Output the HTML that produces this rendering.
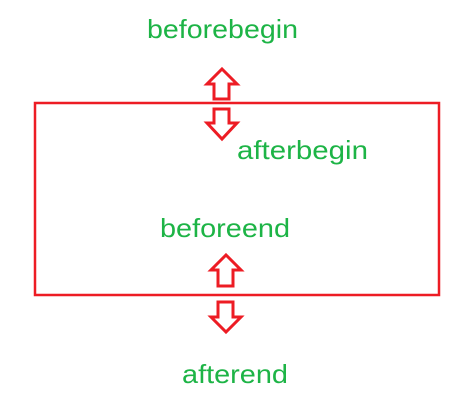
<!DOCTYPE html>
<html><head><style>html,body{margin:0;padding:0;background:#fff;}svg{display:block}</style></head>
<body>
<svg width="476" height="400" xmlns="http://www.w3.org/2000/svg">
<rect x="35" y="103" width="404" height="192" fill="none" stroke="#ed1c24" stroke-width="2.5"/>
<g fill="#fff" stroke="#ed1c24" stroke-width="3" stroke-linejoin="miter">
<polygon points="222,69 237,84 229,84 229,99 214,99 214,84 207,84"/>
<polygon points="214,109 229,109 229,123 237,123 222,139 207,123 214,123"/>
<polygon points="226,255 241,270 233,270 233,286 218,286 218,270 211,270"/>
<polygon points="218,302 233,302 233,317 241,317 226,332 211,317 218,317"/>
</g>
<g font-family="Liberation Sans, sans-serif" font-size="26" fill="#1db446">
<text x="147" y="38" textLength="151" lengthAdjust="spacingAndGlyphs">beforebegin</text>
<text x="237" y="159" textLength="131" lengthAdjust="spacingAndGlyphs">afterbegin</text>
<text x="160" y="237" textLength="130" lengthAdjust="spacingAndGlyphs">beforeend</text>
<text x="182" y="383" textLength="106" lengthAdjust="spacingAndGlyphs">afterend</text>
</g>
</svg>
</body></html>
